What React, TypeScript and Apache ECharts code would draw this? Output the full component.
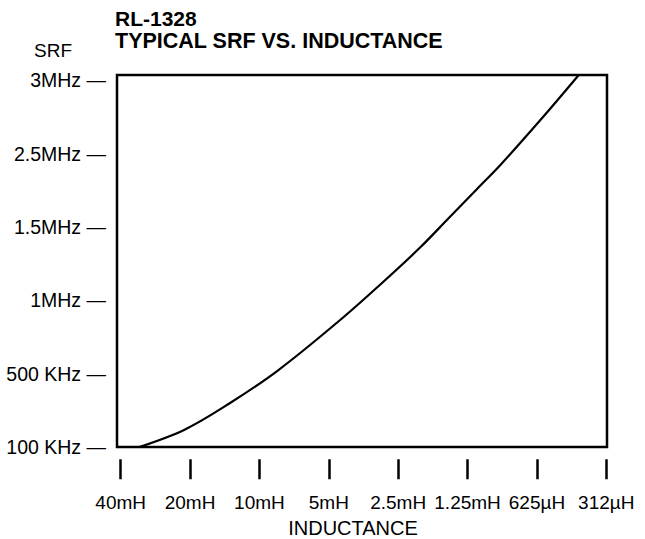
import React, { useEffect, useRef } from "react";
import * as echarts from "echarts";

// Evenly spaced scale positions (index units) with their printed labels
const xTickPositions = [0, 1, 2, 3, 4, 5, 6, 7];
const xLabels = ["40mH", "20mH", "10mH", "5mH", "2.5mH", "1.25mH", "625\u00B5H", "312\u00B5H"];
const yTickPositions = [0, 1, 2, 3, 4, 5];
const yLabels = ["100 KHz", "500 KHz", "1MHz", "1.5MHz", "2.5MHz", "3MHz"];

// SRF curve, in scale-index units
const curveX = [0.268, 0.928, 1.577, 2.274, 3.164, 3.814, 4.319, 4.73, 5.137, 5.473, 6.075, 6.603];
const curveY = [0, 0.24, 0.6, 1.05, 1.733, 2.278, 2.724, 3.124, 3.52, 3.847, 4.488, 5.075];

const titleLine1 = "RL-1328";
const titleLine2 = "TYPICAL SRF VS. INDUCTANCE";
const yName = "SRF";
const xName = "INDUCTANCE";

const FONT = "'Liberation Sans', Arial, Helvetica, sans-serif";

export default function App() {
  const ref = useRef<HTMLDivElement>(null);
  useEffect(() => {
    if (!ref.current) return;
    const chart = echarts.init(ref.current, undefined, { renderer: "svg" });
    const data = curveX.map((x, i) => [x, curveY[i]]);
    const xMin = -0.053;
    const xMax = 7.01;
    chart.setOption({
      animation: false,
      backgroundColor: "#fff",
      title: [
        {
          text: titleLine1,
          left: 115,
          top: 8,
          padding: 0,
          textStyle: { fontFamily: FONT, fontWeight: "bold", fontSize: 21, lineHeight: 21, color: "#000" },
        },
        {
          text: titleLine2,
          left: 115,
          top: 30,
          padding: 0,
          textStyle: { fontFamily: FONT, fontWeight: "bold", fontSize: 21.5, lineHeight: 21, color: "#000" },
        },
        {
          text: yName,
          left: 34,
          top: 41,
          padding: 0,
          textStyle: { fontFamily: FONT, fontWeight: "normal", fontSize: 19, lineHeight: 19, color: "#000" },
        },
      ],
      grid: [
        {
          left: 117,
          top: 75,
          width: 490,
          height: 372,
          show: true,
          borderColor: "#000",
          borderWidth: 2.5,
          backgroundColor: "transparent",
        },
        {
          left: 117,
          top: 459,
          width: 490,
          height: 1,
          show: false,
        },
      ],
      xAxis: [
        {
          gridIndex: 0,
          type: "value",
          min: xMin,
          max: xMax,
          show: false,
          splitLine: { show: false },
        },
        {
          gridIndex: 1,
          type: "value",
          min: xMin,
          max: xMax,
          axisLine: { show: false },
          splitLine: { show: false },
          axisTick: {
            show: true,
            customValues: xTickPositions,
            length: 20,
            inside: false,
            lineStyle: { color: "#000", width: 2.5 },
          },
          axisLabel: {
            customValues: xTickPositions,
            margin: 34,
            fontFamily: FONT,
            fontSize: 19,
            color: "#000",
            formatter: (v: number) => xLabels[Math.round(v)] ?? "",
          },
          name: xName,
          nameLocation: "middle",
          nameGap: 59,
          nameTextStyle: {
            fontFamily: FONT,
            fontSize: 20,
            color: "#000",
            padding: [0, 18, 0, 0],
          },
        },
      ],
      yAxis: [
        {
          gridIndex: 0,
          type: "value",
          min: 0,
          max: 5.075,
          axisLine: { show: false },
          splitLine: { show: false },
          axisTick: { show: false },
          axisLabel: {
            customValues: yTickPositions,
            margin: 11,
            fontFamily: FONT,
            fontSize: 19.5,
            color: "#000",
            formatter: (v: number) => {
              const l = yLabels[Math.round(v)];
              return l ? l + " \u2014" : "";
            },
          },
        },
        {
          gridIndex: 1,
          type: "value",
          show: false,
          min: 0,
          max: 1,
        },
      ],
      series: [
        {
          type: "line",
          xAxisIndex: 0,
          yAxisIndex: 0,
          data,
          smooth: 0.35,
          showSymbol: false,
          symbol: "none",
          lineStyle: { color: "#000", width: 2.2 },
          clip: true,
        },
      ],
    });
    return () => chart.dispose();
  }, []);
  return (
    <div
      ref={ref}
      style={{ position: "fixed", left: 0, top: 0, width: 645, height: 539, background: "#fff" }}
    />
  );
}
